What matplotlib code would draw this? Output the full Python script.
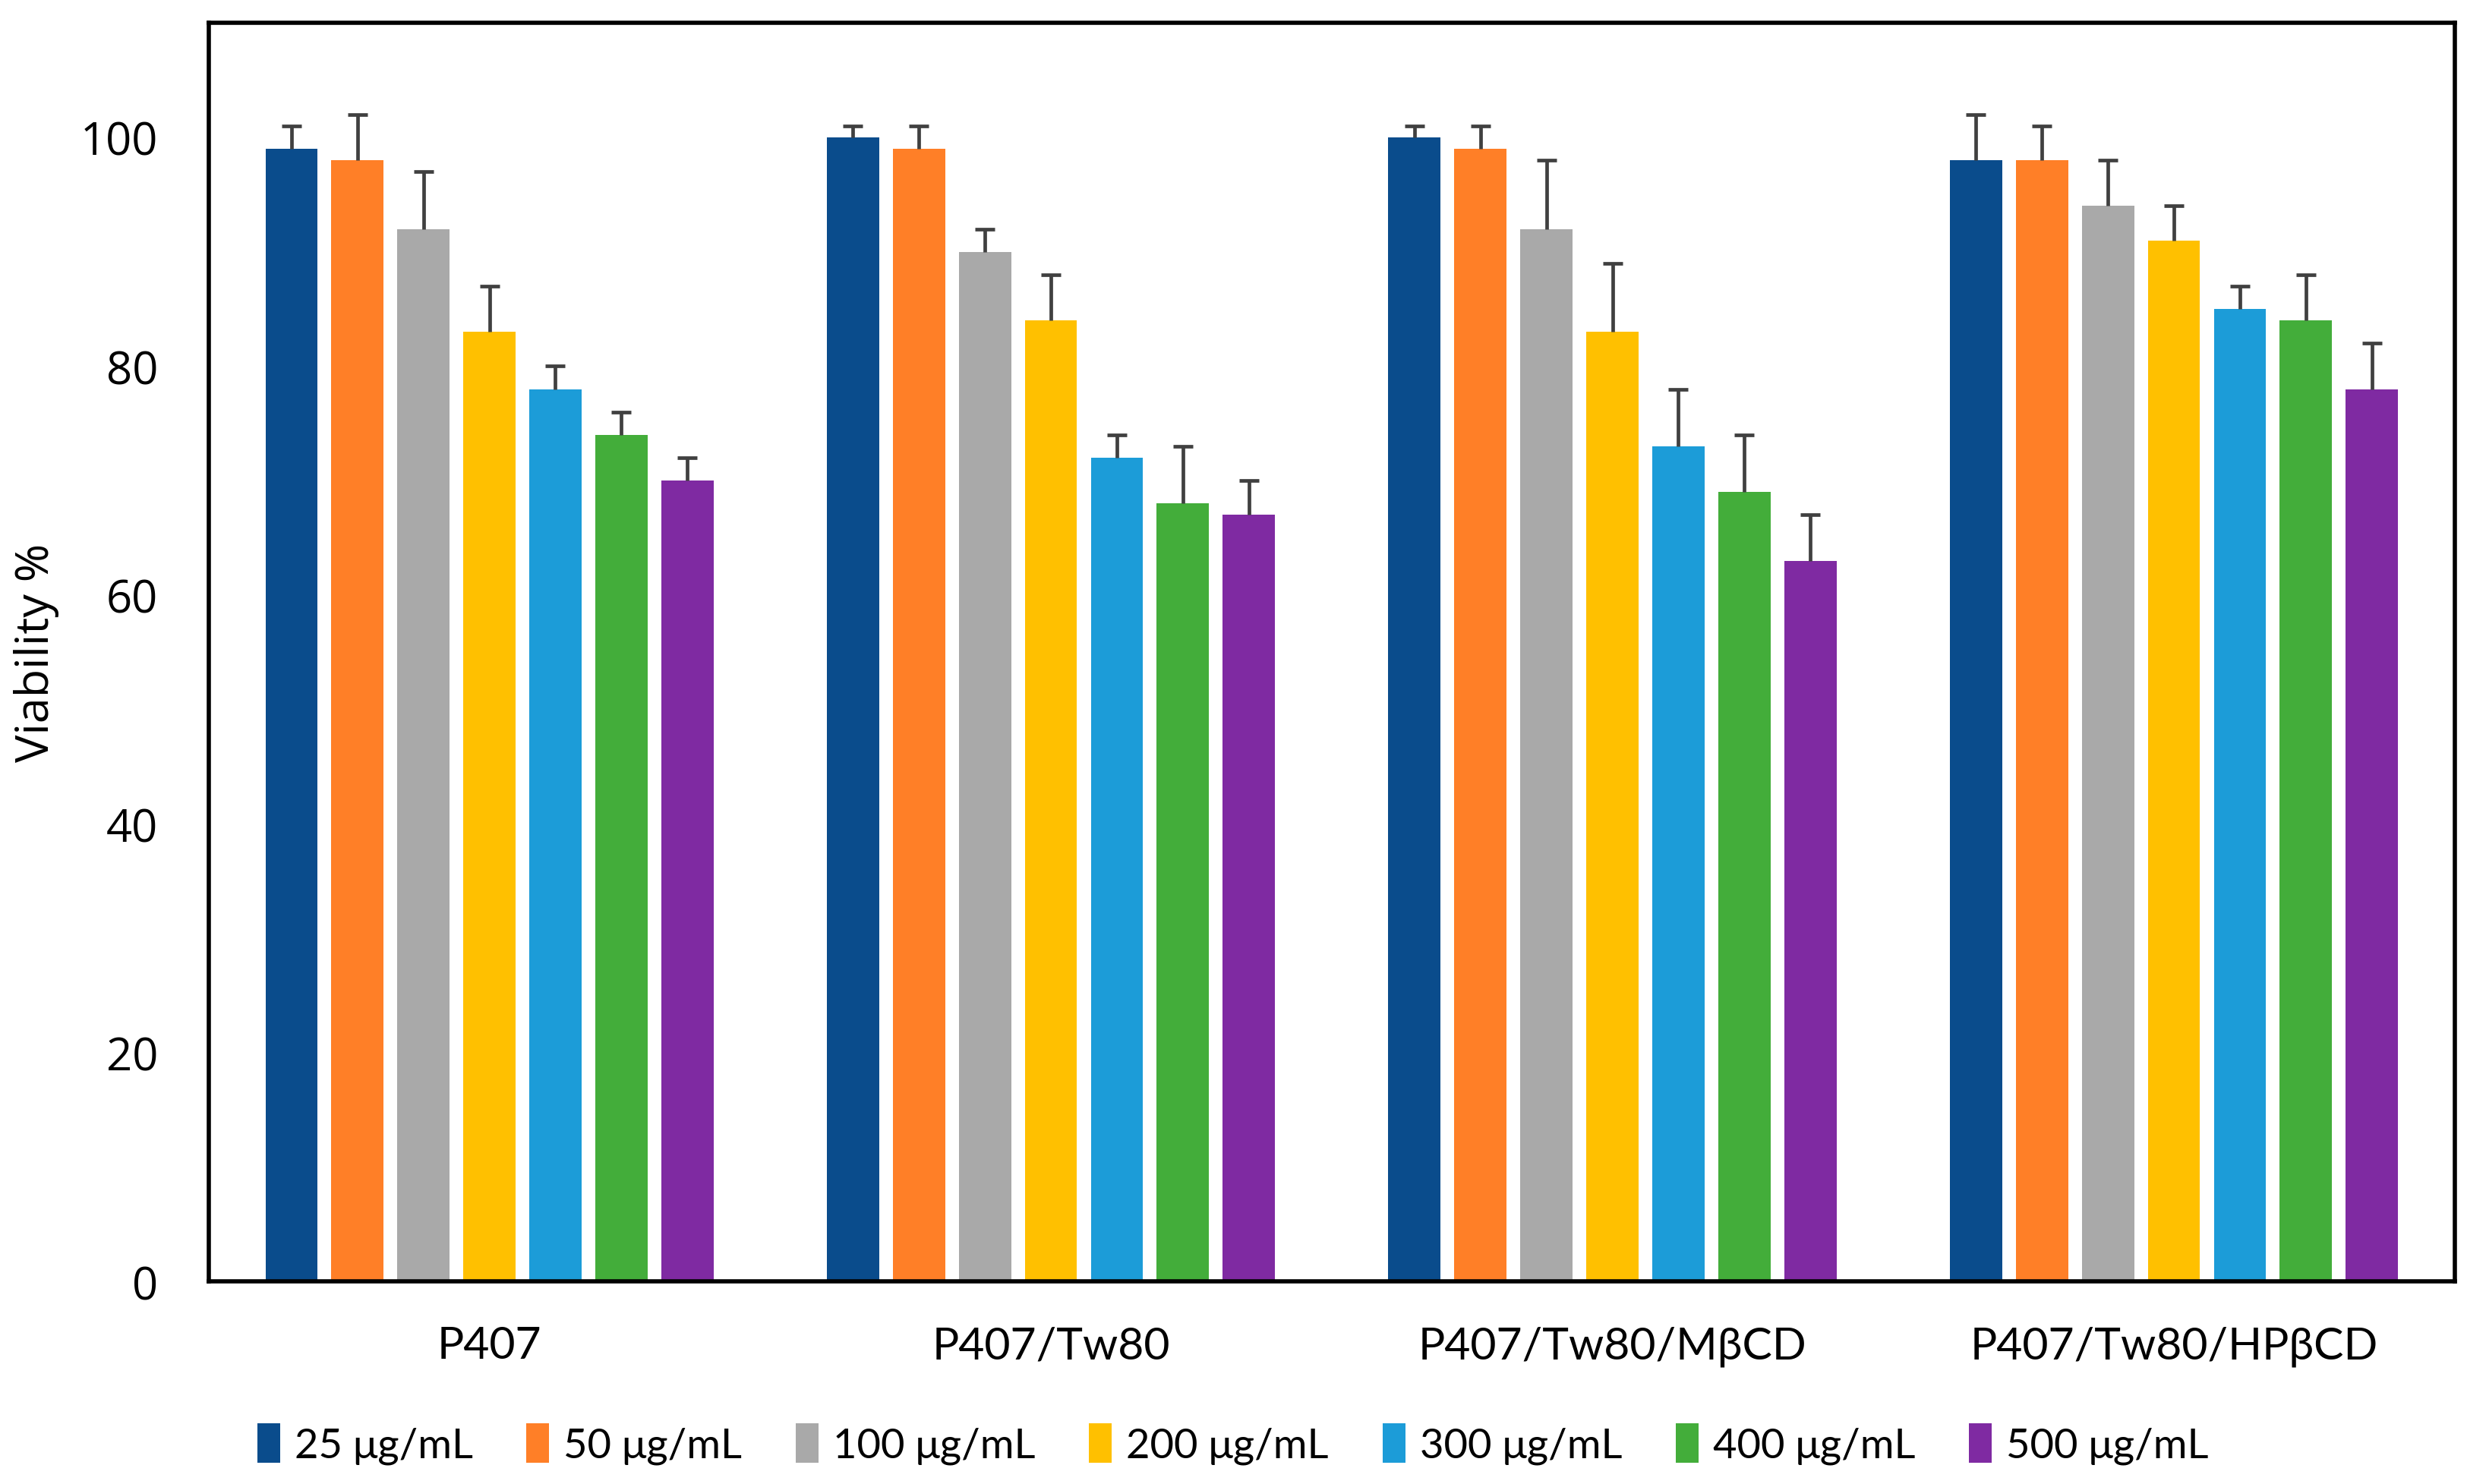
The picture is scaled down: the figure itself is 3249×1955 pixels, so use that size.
import matplotlib
matplotlib.use('Agg')
import matplotlib.pyplot as plt
import numpy as np

groups = ['P407', 'P407/Tw80', 'P407/Tw80/MβCD', 'P407/Tw80/HPβCD']
doses = ['25 μg/mL', '50 μg/mL', '100 μg/mL', '200 μg/mL',
         '300 μg/mL', '400 μg/mL', '500 μg/mL']

# viability per dose, one value per formulation
v25 = [99, 100, 100, 98]
v50 = [98, 99, 99, 98]
v100 = [92, 90, 92, 94]
v200 = [83, 84, 83, 91]
v300 = [78, 72, 73, 85]
v400 = [74, 68, 69, 84]
v500 = [70, 67, 63, 78]

# upper error (SD)
e25 = [2, 1, 1, 4]
e50 = [4, 2, 2, 3]
e100 = [5, 2, 6, 4]
e200 = [4, 4, 6, 3]
e300 = [2, 2, 5, 2]
e400 = [2, 5, 5, 4]
e500 = [2, 3, 4, 4]

values = [v25, v50, v100, v200, v300, v400, v500]
errors = [e25, e50, e100, e200, e300, e400, e500]
colors = ['#0A4C8C', '#FF7F27', '#A9A9A9', '#FFC000',
          '#1C9CD8', '#43AD3A', '#7F2AA2']

fig = plt.figure(figsize=(16.245, 9.78), dpi=200)
ax = fig.add_axes([0.0846, 0.1365, 0.9104, 0.8475])

x = np.arange(len(groups))
pitch = 0.1175
width = 0.093
for i, (vals, errs, c, lab) in enumerate(zip(values, errors, colors, doses)):
    pos = x + (i - 3) * pitch
    ax.bar(pos, vals, width, color=c, label=lab, zorder=2)
    eb = ax.errorbar(pos, vals, yerr=[np.zeros(len(errs)), errs], fmt='none',
                     ecolor='#404040', elinewidth=1.7, capsize=4.7,
                     capthick=1.7, zorder=3)
    eb[1][0].set_visible(False)  # no lower cap

ax.set_xlim(-0.5, 3.5)
ax.set_ylim(0, 110)
ax.set_yticks([0, 20, 40, 60, 80, 100])
ax.set_xticks(x)
ax.set_xticklabels(groups, fontsize=21.2, family='Lato')
ax.tick_params(axis='both', length=0)
ax.tick_params(axis='y', labelsize=21.5, pad=24)
ax.tick_params(axis='x', pad=21)
for t in ax.get_yticklabels():
    t.set_family('Open Sans')
ax.set_ylabel('Viability %', fontsize=22, family='Open Sans', labelpad=10)

for s in ax.spines.values():
    s.set_linewidth(2)
    s.set_color('black')

ax.legend(loc='upper center', bbox_to_anchor=(0.456, -0.083), ncol=7,
          frameon=False, handlelength=0.55, handleheight=1.1,
          handletextpad=0.35, columnspacing=1.3,
          prop={'family': 'Lato', 'size': 19.6})

fig.savefig('out.png', dpi=200)
